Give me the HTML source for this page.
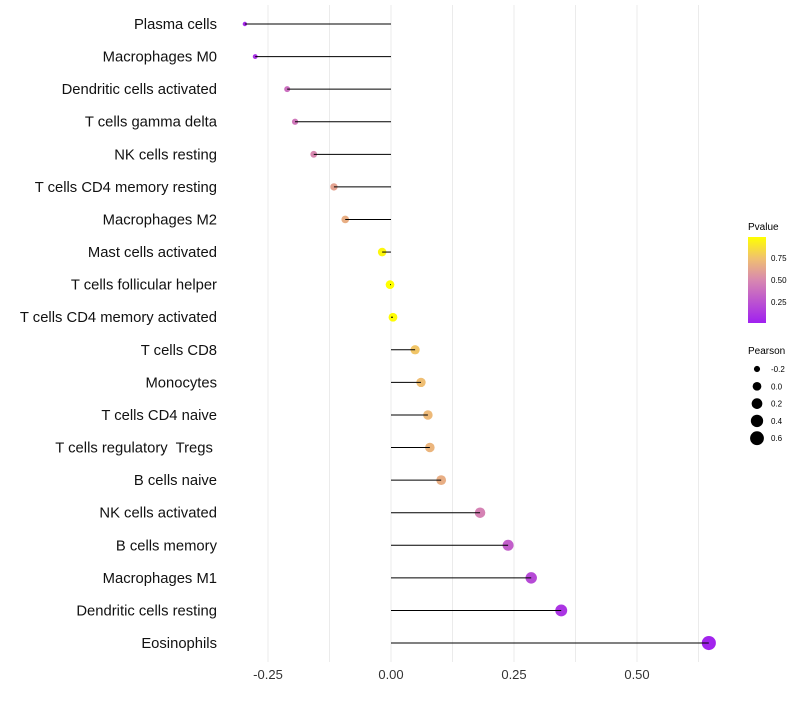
<!DOCTYPE html>
<html><head><meta charset="utf-8"><style>
body{margin:0;background:#fff;font-family:"Liberation Sans",sans-serif}
</style></head><body>
<svg id="chart" width="800" height="700" xmlns="http://www.w3.org/2000/svg" font-family="Liberation Sans, sans-serif">
<defs><linearGradient id="pg" x1="0" y1="1" x2="0" y2="0">
<stop offset="0" stop-color="#A020F0"/><stop offset="0.5" stop-color="#D888B0"/><stop offset="0.75" stop-color="#F0C070"/><stop offset="1" stop-color="#FFFF00"/></linearGradient></defs>
<g id="grid"></g>
<g id="marks"></g>
<g id="ylab"></g>
<g id="xlab"></g>
<g>
<text x="748" y="230" font-size="10" fill="#000">Pvalue</text>
<rect x="748" y="237" width="18" height="86" fill="url(#pg)"/>
<text x="771" y="261" font-size="8">0.75</text>
<text x="771" y="283" font-size="8">0.50</text>
<text x="771" y="305" font-size="8">0.25</text>
</g>
<g id="sizeleg">
<text x="748" y="354" font-size="10">Pearson</text>
</g>
</svg>
<script>
const cells=["Plasma cells","Macrophages M0","Dendritic cells activated","T cells gamma delta","NK cells resting","T cells CD4 memory resting","Macrophages M2","Mast cells activated","T cells follicular helper","T cells CD4 memory activated","T cells CD8","Monocytes","T cells CD4 naive","T cells regulatory  Tregs ","B cells naive","NK cells activated","B cells memory","Macrophages M1","Dendritic cells resting","Eosinophils"];
const pearson=[-0.297,-0.276,-0.211,-0.195,-0.157,-0.116,-0.093,-0.018,-0.002,0.004,0.049,0.061,0.075,0.079,0.102,0.181,0.238,0.285,0.346,0.646];
const pvalue=[0.05,0.08,0.38,0.42,0.5,0.62,0.67,0.97,1.0,0.99,0.77,0.74,0.72,0.7,0.67,0.47,0.3,0.2,0.1,0.02];
const xTicks=[-0.25,0,0.25,0.5];
const xTickLabels=["-0.25","0.00","0.25","0.50"];
const sizeLegendVals=[-0.2,0,0.2,0.4,0.6];
const NS="http://www.w3.org/2000/svg";
const xs=v=>391+v*492, ys=i=>24+i*32.58;
const rs=v=>Math.sqrt(Math.max(1,19+47.6*v));
function lerp(a,b,t){return a.map((x,i)=>Math.round(x+(b[i]-x)*t));}
const stops=[[0,[160,32,240]],[0.5,[216,136,176]],[0.75,[240,192,112]],[1,[255,255,0]]];
function col(p){for(let k=1;k<stops.length;k++){if(p<=stops[k][0]){const a=stops[k-1],b=stops[k];return `rgb(${lerp(a[1],b[1],(p-a[0])/(b[0]-a[0]))})`;}}return 'rgb(255,255,0)';}
function mk(tag,at,parent){const e=document.createElementNS(NS,tag);for(const k in at)e.setAttribute(k,at[k]);parent.appendChild(e);return e;}
const grid=document.getElementById('grid'),marks=document.getElementById('marks'),ylab=document.getElementById('ylab'),xlab=document.getElementById('xlab');
for(let v=-0.25;v<=0.7;v+=0.125){const l=mk('line',{x1:xs(v),x2:xs(v),y1:5,y2:662,stroke:'#ebebeb','stroke-width':1},grid);

}
xTicks.forEach((v,i)=>{const t=mk('text',{x:xs(v),y:679,'font-size':13,'text-anchor':'middle',fill:'#333'},xlab);t.textContent=xTickLabels[i];

});
cells.forEach((c,i)=>{const y=ys(i);
const t=mk('text',{x:217,y:y+5,'font-size':14.8,'text-anchor':'end',fill:'#111','xml:space':'preserve'},ylab);t.style.whiteSpace='pre';t.textContent=c;


const p=mk('circle',{cx:xs(pearson[i]),cy:y,r:rs(pearson[i]),fill:col(pvalue[i])},marks);


const s=mk('line',{x1:xs(0),x2:xs(pearson[i]),y1:y,y2:y,stroke:'#000','stroke-width':1},marks);

});
const sl=document.getElementById('sizeleg');
sizeLegendVals.forEach((v,i)=>{const y=369+i*17.3;
const c=mk('circle',{cx:757,cy:y,r:rs(v),fill:'#000'},sl);


const t=mk('text',{x:771,y:y+3,'font-size':8},sl);t.textContent=v.toFixed(1).replace('-0.0','0.0');

});
</script>
</body></html>
